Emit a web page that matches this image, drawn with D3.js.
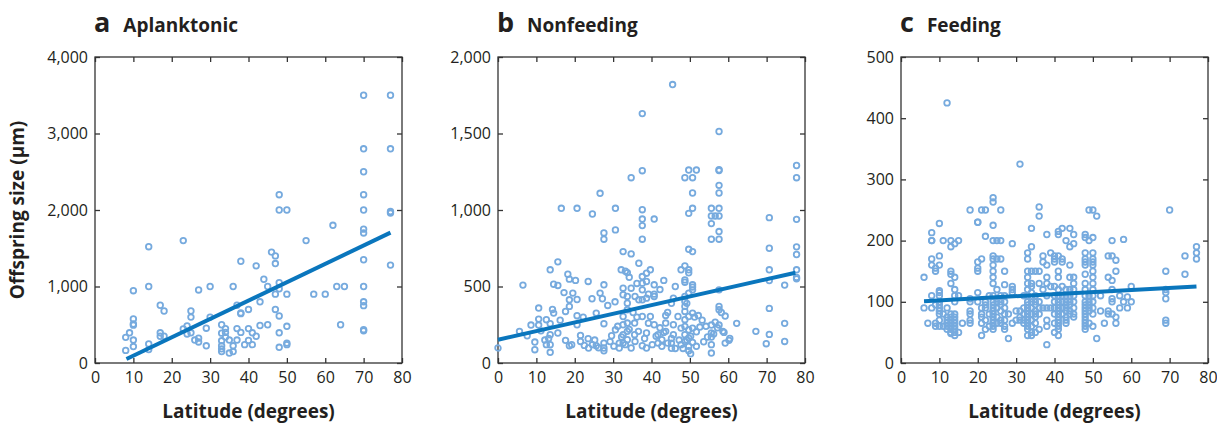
<!DOCTYPE html>
<meta charset="utf-8">
<head>
<style>
  body { margin: 0; background: #fff; }
  text { font-family: "Open Sans", "Noto Sans", sans-serif; fill: #231f20; }
  .frame { fill: none; stroke: #333; stroke-width: 1.3; }
  .tick line { stroke: #333; stroke-width: 1.3; }
  .dot { fill: none; stroke: #76aade; stroke-width: 1.8; }
  .trend { stroke: #0a76bd; stroke-width: 4; }
</style>
</head>
<body>
<svg id="chart"></svg>
<script src="https://d3js.org/d3.v7.min.js"></script>
<script>

// ---- data ----
var latTicks = [0, 10, 20, 30, 40, 50, 60, 70, 80];

var aplankTicks = [0, 1000, 2000, 3000, 4000];
var aplankPoints = [
  [70,3500],[77,3500],[70,2800],[77,2800],[70,2500],[70,2200],[70,2000],[77,1960],[77,1980],
  [70,1750],[70,1700],[70,1350],[70,1000],[70,800],[70,750],[70,435],[70,420],[77,1280],
  [48,2200],[48,2000],[50,2000],[62,1800],[55,1600],[63,1000],[65,1000],[57,900],[60,900],[64,500],
  [23,1600],[14,1520],[14,1000],[10,945],[27,955],[30,1000],[36,1000],[38,1330],[42,1270],[44,1095],
  [46,1450],[47,1400],[47,1300],[48,1050],[48,970],[45,1000],[47,900],[50,900],[43,800],[40,700],
  [37,755],[38,655],[38,645],[47,700],[48,615],[45,500],[43,490],[48,395],[50,480],[48,205],[50,260],
  [50,240],[42,350],[41,395],[40,450],[40,295],[39,240],[41,240],[37,450],[38,400],[37,300],[36,225],
  [36,150],[35,300],[35,130],[34,450],[34,400],[34,340],[33,500],[33,390],[33,290],[33,225],[33,185],
  [33,150],[30,600],[29,455],[29,225],[27,325],[27,275],[26,300],[25,680],[25,600],[25,395],[24,485],
  [24,380],[23,445],[18,680],[17,755],[17,395],[17,350],[18,350],[14,250],[14,175],[10,575],[10,510],
  [10,495],[9,395],[8,335],[10,300],[10,215],[8,165]
];
var aplankTrend = [[8.2, 52], [77, 1704]];

var nonfeedTicks = [0, 500, 1000, 1500, 2000];
var nonfeedPoints = [
  [45.5,1820],[37.6,1630],[57.6,1513],[37.6,1257],[34.7,1211],[49.7,1261],[51.7,1261],[48.7,1211],
  [50.7,1211],[57.6,1263],[57.6,1258],[77.8,1291],[77.8,1211],[26.6,1109],[50.7,1111],[57.6,1161],
  [57.6,1111],[16.5,1011],[20.6,1011],[24.6,974],[30.6,1011],[37.6,1002],[37.6,941],[37.6,898],
  [37.6,809],[40.7,941],[50.7,1011],[49.7,978],[55.6,1011],[55.6,961],[55.6,911],[55.6,809],
  [56.6,961],[57.6,1011],[57.6,961],[57.6,859],[57.6,809],[27.6,850],[27.6,809],[30.6,870],
  [70.7,950],[77.8,939],[70.7,750],[77.8,759],[77.8,709],[77.8,609],[77.8,559],[77.8,550],
  [70.7,609],[70.7,539],[74.7,509],[70.7,357],[70.7,187],[69.9,126],[74.7,259],[74.7,141],
  [67.2,207],[62.2,259],[59.2,307],[60.2,148],[59.2,130],[57.6,478],[57.6,370],[57.6,348],
  [56.6,267],[55.6,248],[57.6,248],[58.6,207],[58.9,200],[55.6,196],[55.6,170],[54.6,170],
  [53.6,139],[55.6,120],[55.6,65],[52.6,235],[51.7,204],[51.7,109],[49.7,743],[50.7,728],
  [48.7,635],[47.7,609],[49.7,609],[49.7,590],[48.7,543],[48.7,528],[50.7,511],[50.7,496],
  [50.7,478],[49.7,457],[48.7,435],[48.7,402],[48.7,370],[48.7,337],[49.7,304],[50.7,326],
  [48.7,283],[48.7,239],[49.7,217],[50.7,228],[48.7,185],[49.7,163],[48.7,141],[50.7,135],
  [49.7,109],[49.7,80],[47.7,228],[46.9,304],[45.7,424],[45.7,250],[45.7,185],[45.2,130],
  [45.2,96],[43.7,311],[43.7,261],[43.7,207],[42.7,152],[42.7,109],[41.7,185],[41.7,130],
  [40.7,435],[40.7,450],[40.7,511],[40.7,250],[39.7,609],[38.7,587],[38.7,533],[37.6,565],
  [37.6,522],[37.6,478],[38.7,424],[37.6,413],[37.6,304],[39.7,304],[38.7,196],[38.7,98],
  [37.6,113],[36.7,652],[36.7,413],[35.7,435],[34.7,489],[34.7,713],[32.6,728],[32.1,609],
  [33.7,591],[32.6,489],[32.6,446],[33.7,435],[33.7,391],[33.7,348],[32.6,304],[33.7,261],
  [32.6,250],[33.7,207],[32.6,185],[33.7,152],[32.6,130],[31.6,130],[31.6,98],[35.6,261],
  [35.6,185],[36.6,207],[35.7,141],[34.7,98],[30.6,217],[29.6,178],[28.6,376],[27.6,511],
  [27.6,257],[26.6,457],[25.6,326],[23.5,533],[21.5,180],[21.5,141],[23.5,159],[24.6,120],
  [25.6,113],[23.6,98],[27.6,98],[27.6,130],[27.6,80],[20.6,415],[20.6,309],[20.6,250],
  [19.5,457],[18.6,548],[18.6,413],[18.6,370],[18.6,113],[17.6,337],[17.6,148],[15.6,661],
  [13.6,609],[14.5,515],[15.6,507],[14.5,326],[15.6,196],[13.6,257],[13.6,185],[12.6,283],
  [12.6,120],[13.6,120],[13.6,70],[10.6,359],[10.6,287],[10.6,248],[8.6,248],[7.6,178],
  [5.6,207],[6.5,509],[9.6,137],[9.6,87],[0,98],
  [49.2,150],[50.2,175],[48.2,95],[50.2,60],[49.2,390],[51.2,300],[47.2,150],[47.7,120],
  [46.2,95],[45.2,160],[44.2,130],[43.2,200],[42.2,230],[41.2,175],[40.2,120],[39.2,260],
  [38.2,160],[36.2,300],[35.2,330],[34.2,220],[33.2,120],[32.2,170],[31.2,240],[30.2,110],
  [29.2,140],[26.2,100],[25.2,150],[22.5,115],[19.2,120],[12.2,150],[11.2,210],[13.2,160],
  [14.2,350],[16.2,280],[53.2,280],[54.2,240],[56.2,190],[58.2,330],[60.4,160],[52.2,310],
  [57.2,230],[44.2,330],[45.2,390],[43.2,540],[42.2,480],[46.2,500],[39.2,450],[36.2,520],
  [34.2,560],[33.2,600],[30.5,400],[24.5,420],[20.2,540],[18.2,580],[17.2,460],[22.2,300],
  [27.2,420]
];
var nonfeedTrend = [[0, 152], [77.5, 590]];

var feedTicks = [0, 100, 200, 300, 400, 500];
// each entry: latitude, then the sizes stacked at that latitude
var feedColumns = [
  [6, [140, 90]], [7, [65]], [8, [213, 200, 200, 170, 160, 110, 90]], [9, [155, 150, 95, 60, 65]],
  [10, [228, 175, 160, 118, 115, 110, 100, 95, 90, 85, 80, 70, 60]], [11, [200, 80, 60]],
  [12, [425, 90, 75, 70, 65, 60, 55]],
  [13, [200, 190, 150, 145, 130, 80, 75, 70, 65, 60, 55, 50, 48]],
  [14, [195, 140, 120, 110, 100, 80, 75, 70, 65, 60, 55, 50, 45]], [15, [200, 110, 50]], [16, [65]],
  [18, [250, 105, 100, 85, 80, 70, 65]], [20, [230, 230, 165, 155, 150, 115, 100]],
  [21, [250, 170, 90, 80, 75, 65, 45]], [22, [250, 207, 100, 95, 90, 70, 55]], [23, [110, 80, 60]],
  [24, [270, 263, 225, 200, 175, 170, 160, 150, 140, 130, 110, 100, 95, 90, 85, 80, 75, 70, 65, 60, 55]],
  [25, [200, 170, 120, 105, 100, 90, 75, 65]], [26, [250, 200, 170, 110, 100, 95, 85, 70, 65]],
  [27, [150, 128, 110, 100, 90, 80, 70, 60, 55]], [28, [80, 40]], [29, [195, 125, 120, 115, 65]],
  [30, [85, 70]], [31, [325, 85, 75, 70]], [32, [110, 90, 80, 70, 65]],
  [33, [180, 170, 150, 140, 130, 120, 110, 100, 95, 90, 85, 80, 75, 70, 65, 60, 55, 45]],
  [34, [220, 190, 150, 130, 125, 115, 105, 100, 90, 80, 70, 60, 50, 45]],
  [35, [150, 110, 100, 95, 85, 80, 75, 65, 50]], [36, [255, 240, 150, 130, 100, 90, 80, 55]],
  [37, [175, 165, 120, 90]], [38, [210, 160, 140, 130, 110, 90, 70, 60, 30]], [39, [180, 125, 90]],
  [40, [175, 170, 165, 125, 110, 100, 90, 80, 65, 50]],
  [41, [215, 210, 175, 150, 140, 120, 110, 100, 95, 90, 85, 80, 75, 70, 65, 60, 55, 45]],
  [42, [220, 170, 165, 125, 110, 100, 90, 80]], [43, [200, 120, 110, 100, 95, 90, 85, 75, 70, 65]],
  [44, [220, 190, 160, 140, 120, 110, 100, 95, 85, 80]],
  [45, [210, 195, 140, 130, 120, 110, 100, 90, 80, 75]],
  [48, [210, 205, 180, 170, 165, 160, 145, 130, 120, 110, 100, 95, 90, 85, 80, 75, 70, 65, 60, 55]],
  [49, [250, 200, 110, 100, 95, 90, 85, 65]],
  [50, [250, 205, 180, 170, 165, 160, 150, 140, 130, 120, 110, 100, 90, 80, 60]],
  [51, [240, 40]], [52, [110, 85]], [53, [65]], [54, [175, 140, 85, 80]],
  [55, [200, 175, 135, 120, 105, 100, 80]], [56, [168, 150, 75, 65]], [57, [110, 90]], [58, [202, 100]],
  [59, [108, 90]], [60, [125, 100]], [69, [150, 120, 115, 105, 70, 65]], [70, [250]], [74, [175, 145]],
  [77, [190, 180, 170]]
];
var feedPoints = [];
feedColumns.forEach(function(c) { c[1].forEach(function(v) { feedPoints.push([c[0], v]); }); });
var feedTrend = [[6, 101], [77, 125]];

var panels = [
  {letter: "a", title: "Aplanktonic", left: 95, yMax: 4000, yTicks: aplankTicks, points: aplankPoints, trend: aplankTrend},
  {letter: "b", title: "Nonfeeding", left: 498, yMax: 2000, yTicks: nonfeedTicks, points: nonfeedPoints, trend: nonfeedTrend},
  {letter: "c", title: "Feeding", left: 901, yMax: 500, yTicks: feedTicks, points: feedPoints, trend: feedTrend}
];

var plotTop = 57, w = 307, h = 306;

var svg = d3.select("#chart")
    .attr("width", 1217)
    .attr("height", 425);

var fmt = d3.format(",");

panels.forEach(function(p) {
  var g = svg.append("g").attr("transform", "translate(" + p.left + "," + plotTop + ")");

  var x = d3.scaleLinear().domain([0, 80]).range([0, w]);
  var y = d3.scaleLinear().domain([0, p.yMax]).range([h, 0]);

  // axes with inward ticks, mirrored on top and right
  g.append("g").attr("transform", "translate(0," + h + ")")
      .call(d3.axisBottom(x).tickValues(latTicks).tickSizeInner(-5).tickSizeOuter(0).tickPadding(9));
  g.append("g")
      .call(d3.axisTop(x).tickValues(latTicks).tickSizeInner(-5).tickSizeOuter(0).tickFormat(""));
  g.append("g")
      .call(d3.axisLeft(y).tickValues(p.yTicks).tickSizeInner(-5).tickSizeOuter(0).tickPadding(7).tickFormat(fmt));
  g.append("g").attr("transform", "translate(" + w + ",0)")
      .call(d3.axisRight(y).tickValues(p.yTicks).tickSizeInner(-5).tickSizeOuter(0).tickFormat(""));

  g.selectAll(".domain").remove();
  g.selectAll(".tick text").style("font-size", "16px").attr("fill", "#231f20");

  g.append("rect").attr("class", "frame").attr("width", w).attr("height", h);

  g.selectAll(".dot")
      .data(p.points)
    .enter().append("circle")
      .attr("class", "dot")
      .attr("r", 2.8)
      .attr("cx", function(d) { return x(d[0]); })
      .attr("cy", function(d) { return y(d[1]); });

  g.append("line")
      .attr("class", "trend")
      .attr("x1", x(p.trend[0][0])).attr("y1", y(p.trend[0][1]))
      .attr("x2", x(p.trend[1][0])).attr("y2", y(p.trend[1][1]));

  // panel heading
  var head = svg.append("text").attr("x", p.left - 1).attr("y", 32);
  head.append("tspan").text(p.letter).style("font-size", "27px").style("font-weight", "bold");
  head.append("tspan").text(p.title).attr("dx", 13).style("font-size", "19px").style("font-weight", "bold");

  svg.append("text")
      .attr("x", p.left + w / 2)
      .attr("y", 418)
      .attr("text-anchor", "middle")
      .style("font-size", "19px")
      .style("font-weight", "bold")
      .text("Latitude (degrees)");
});

svg.append("text")
    .attr("transform", "translate(24," + (plotTop + h / 2) + ") rotate(-90)")
    .attr("text-anchor", "middle")
    .style("font-size", "19px")
    .style("font-weight", "bold")
    .text("Offspring size (µm)");

</script>
</body>
